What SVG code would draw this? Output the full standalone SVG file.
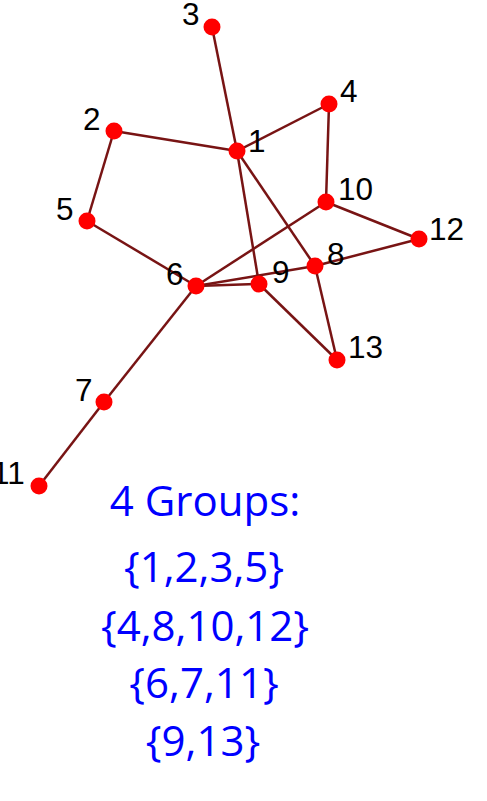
<svg xmlns="http://www.w3.org/2000/svg" width="487" height="801" viewBox="0 0 487 801">
<style>
.e{stroke:#781414;stroke-width:2.5;fill:none}
.n{fill:#ff0000}
.l{font-family:"Liberation Sans",Arial,sans-serif;font-size:31.5px;fill:#000}
.t{font-family:"Open Sans","Noto Sans",sans-serif;font-size:42px;fill:#0000ff;text-anchor:middle}
</style>
<rect width="487" height="801" fill="#fff"/>
<g id="edges">
<line class="e" x1="212" y1="27" x2="237" y2="151"/>
<line class="e" x1="114" y1="131" x2="237" y2="151"/>
<line class="e" x1="237" y1="151" x2="329" y2="104"/>
<line class="e" x1="114" y1="131" x2="87" y2="221"/>
<line class="e" x1="87" y1="221" x2="196" y2="286"/>
<line class="e" x1="237" y1="151" x2="259" y2="284"/>
<line class="e" x1="237" y1="151" x2="315" y2="266"/>
<line class="e" x1="329" y1="104" x2="326" y2="202"/>
<line class="e" x1="326" y1="202" x2="196" y2="286"/>
<line class="e" x1="326" y1="202" x2="419" y2="239"/>
<line class="e" x1="419" y1="239" x2="315" y2="266"/>
<line class="e" x1="315" y1="266" x2="196" y2="286"/>
<line class="e" x1="196" y1="286" x2="259" y2="284"/>
<line class="e" x1="315" y1="266" x2="337" y2="360"/>
<line class="e" x1="259" y1="284" x2="337" y2="360"/>
<line class="e" x1="196" y1="286" x2="104" y2="402"/>
<line class="e" x1="104" y1="402" x2="39" y2="486"/>
</g>
<g id="node1"><circle class="n" cx="237" cy="151" r="8.5"/><text class="l" x="248" y="152">1</text></g>
<g id="node2"><circle class="n" cx="114" cy="131" r="8.5"/><text class="l" x="83" y="130">2</text></g>
<g id="node3"><circle class="n" cx="212" cy="27" r="8.5"/><text class="l" x="182" y="25">3</text></g>
<g id="node4"><circle class="n" cx="329" cy="104" r="8.5"/><text class="l" x="340" y="102">4</text></g>
<g id="node5"><circle class="n" cx="87" cy="221" r="8.5"/><text class="l" x="56" y="220">5</text></g>
<g id="node6"><circle class="n" cx="196" cy="286" r="8.5"/><text class="l" x="166" y="285">6</text></g>
<g id="node7"><circle class="n" cx="104" cy="402" r="8.5"/><text class="l" x="75" y="401">7</text></g>
<g id="node8"><circle class="n" cx="315" cy="266" r="8.5"/><text class="l" x="327" y="265">8</text></g>
<g id="node9"><circle class="n" cx="259" cy="284" r="8.5"/><text class="l" x="272" y="283">9</text></g>
<g id="node10"><circle class="n" cx="326" cy="202" r="8.5"/><text class="l" x="338" y="200">10</text></g>
<g id="node11"><circle class="n" cx="39" cy="486" r="8.5"/><text class="l" x="-8" y="484">11</text></g>
<g id="node12"><circle class="n" cx="419" cy="239" r="8.5"/><text class="l" x="429" y="240">12</text></g>
<g id="node13"><circle class="n" cx="337" cy="360" r="8.5"/><text class="l" x="348" y="358">13</text></g>
<g id="caption">
<text class="t" x="205" y="516">4 Groups:</text>
<text class="t" x="204" y="582">{1,2,3,5}</text>
<text class="t" x="205" y="641">{4,8,10,12}</text>
<text class="t" x="204" y="698">{6,7,11}</text>
<text class="t" x="203" y="756">{9,13}</text>
</g>
</svg>
